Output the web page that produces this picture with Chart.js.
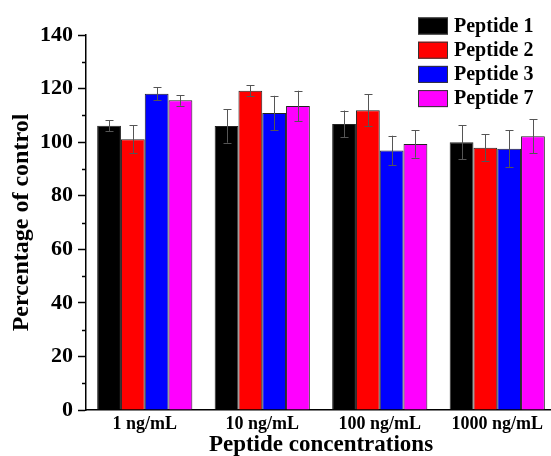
<!DOCTYPE html>
<html>
<head>
<meta charset="utf-8">
<script src="https://cdn.jsdelivr.net/npm/chart.js@4"></script>
<style>
    html, body { margin: 0; padding: 0; background: #fff; overflow: hidden; }
    #wrap { width: 560px; height: 456px; position: relative; }
</style>
</head>
<body>
<div id="wrap"><canvas id="peptideChart"></canvas></div>
<script>
// 数据
const concentrations = ['1 ng/mL', '10 ng/mL', '100 ng/mL', '1000 ng/mL'];
const seriesNames = ['Peptide 1', 'Peptide 2', 'Peptide 3', 'Peptide 7'];
const peptide1 = [106.1, 106.0, 106.8, 100.0];
const peptide2 = [101.1, 119.2, 111.9, 97.9];
const peptide3 = [118.1, 110.9, 96.9, 97.5];
const peptide7 = [115.6, 113.5, 99.3, 102.2];
const peptide1Err = [2.1, 6.2, 5.0, 6.3];
const peptide2Err = [5.3, 2.1, 5.9, 5.0];
const peptide3Err = [2.4, 6.4, 5.5, 6.9];
const peptide7Err = [2.0, 5.7, 5.1, 6.3];
const yTicks = [0, 20, 40, 60, 80, 100, 120, 140];

const serif = '"Liberation Serif", "Times New Roman", serif';
const colors = ['#000000', '#ff0000', '#0000ff', '#ff00ff'];
const values = [peptide1, peptide2, peptide3, peptide7];
const errors = [peptide1Err, peptide2Err, peptide3Err, peptide7Err];

// 误差线
const errorBarPlugin = {
    id: 'errorBars',
    afterDatasetsDraw(chart) {
        const ctx = chart.ctx;
        const y = chart.scales.y;
        ctx.save();
        ctx.strokeStyle = '#555';
        ctx.lineWidth = 1;
        chart.data.datasets.forEach((ds, i) => {
            const meta = chart.getDatasetMeta(i);
            meta.data.forEach((bar, j) => {
                const v = ds.data[j], e = errors[i][j];
                const top = y.getPixelForValue(v + e);
                const bot = y.getPixelForValue(v - e);
                const x = Math.round(bar.x) + 0.5;
                ctx.beginPath();
                ctx.moveTo(x, top); ctx.lineTo(x, bot);
                ctx.moveTo(x - 4, Math.round(top) + 0.5); ctx.lineTo(x + 4, Math.round(top) + 0.5);
                ctx.moveTo(x - 4, Math.round(bot) + 0.5); ctx.lineTo(x + 4, Math.round(bot) + 0.5);
                ctx.stroke();
            });
        });
        ctx.restore();
    }
};

// 次刻度
const minorTickPlugin = {
    id: 'minorTicks',
    afterDraw(chart) {
        const ctx = chart.ctx;
        const y = chart.scales.y;
        const left = chart.chartArea.left;
        ctx.save();
        ctx.strokeStyle = '#000';
        ctx.lineWidth = 1.5;
        for (let v = 10; v < 140; v += 20) {
            const py = Math.round(y.getPixelForValue(v)) + 0.5;
            ctx.beginPath();
            ctx.moveTo(left - 4, py); ctx.lineTo(left, py);
            ctx.stroke();
        }
        ctx.restore();
    }
};

// 图例
const legendPlugin = {
    id: 'boxLegend',
    afterDraw(chart) {
        const ctx = chart.ctx;
        ctx.save();
        ctx.font = 'bold 20px ' + serif;
        ctx.textBaseline = 'middle';
        chart.data.datasets.forEach((ds, i) => {
            const cy = 25.5 + i * 24.2;
            ctx.fillStyle = ds.backgroundColor;
            ctx.fillRect(418, cy - 8, 30, 17);
            ctx.strokeStyle = '#333';
            ctx.lineWidth = 1;
            ctx.strokeRect(418.5, cy - 7.5, 29, 16);
            ctx.fillStyle = '#000';
            ctx.fillText(ds.label, 454, cy + 1);
        });
        ctx.restore();
    }
};

new Chart(document.getElementById('peptideChart').getContext('2d'), {
    type: 'bar',
    data: {
        labels: concentrations,
        datasets: seriesNames.map((name, i) => ({
            label: name,
            data: values[i],
            backgroundColor: colors[i],
            borderColor: '#222',
            borderWidth: 1,
            barPercentage: 1,
            categoryPercentage: 0.81
        }))
    },
    options: {
        responsive: true,
        maintainAspectRatio: false,
        animation: false,
        layout: { padding: { top: 35, right: 4, left: 0, bottom: 0 } },
        plugins: {
            legend: { display: false },
            tooltip: { enabled: false }
        },
        scales: {
            x: {
                grid: { display: false, drawTicks: false },
                border: { display: true, color: '#000', width: 1.5 },
                ticks: {
                    color: '#000',
                    font: { family: serif, size: 18, weight: 'bold' },
                    padding: 4,
                    maxRotation: 0
                },
                title: {
                    display: true,
                    text: 'Peptide concentrations',
                    color: '#000',
                    font: { family: serif, size: 23, weight: 'bold' },
                    padding: { top: 0, bottom: -3 }
                },
                afterFit(scale) { scale.height = 46; }
            },
            y: {
                min: 0,
                max: 140,
                afterBuildTicks(scale) { scale.ticks = yTicks.map(v => ({ value: v })); },
                grid: { drawOnChartArea: false, tickLength: 8, tickColor: '#000', tickWidth: 1.5 },
                border: { display: true, color: '#000', width: 1.5 },
                ticks: {
                    color: '#000',
                    font: { family: serif, size: 22, weight: 'bold' },
                    padding: 5
                },
                title: {
                    display: true,
                    text: 'Percentage of control',
                    color: '#000',
                    font: { family: serif, size: 24, weight: 'bold' },
                    padding: { top: 7, bottom: 0 }
                },
                afterFit(scale) { scale.width = 86; }
            }
        }
    },
    plugins: [errorBarPlugin, minorTickPlugin, legendPlugin]
});
</script>
</body>
</html>
